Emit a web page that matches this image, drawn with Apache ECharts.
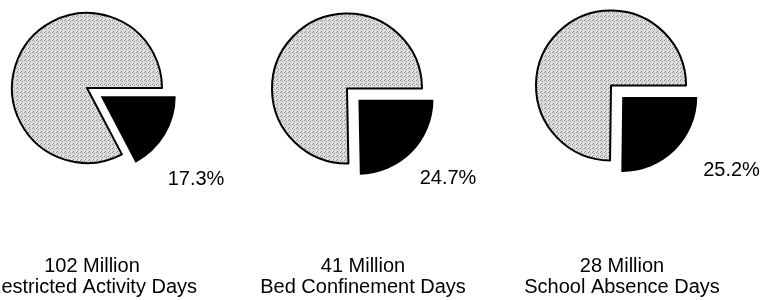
<!DOCTYPE html>
<html>
<head>
<meta charset="utf-8">
<script src="https://cdn.jsdelivr.net/npm/echarts@6/dist/echarts.min.js"></script>
<style>
  html, body { margin: 0; padding: 0; background: #fff; }
  #chart { width: 763px; height: 300px; }
</style>
</head>
<body>
<div id="chart"></div>
<script>
// data
const counts = ['102 Million', '41 Million', '28 Million'];
const categories = ['Restricted Activity Days', 'Bed Confinement Days', 'School Absence Days'];
const shares = [17.3, 24.7, 25.2];

// layout (px)
const centers = [[87, 88], [347, 88.5], [611, 85.5]];
const pctPos = [[196, 179], [448, 178.5], [731.5, 170]];
const captionX = [92, 363, 622];
const FONT = '"Liberation Sans", Arial, sans-serif';

// stippled grey fill like the scanned original
function stipple() {
  const c = document.createElement('canvas');
  c.width = 4; c.height = 4;
  const ctx = c.getContext('2d');
  ctx.fillStyle = '#dedede';
  ctx.fillRect(0, 0, 4, 4);
  ctx.fillStyle = '#8e8e8e';
  ctx.fillRect(0, 0, 1, 1);
  ctx.fillRect(2, 1, 1, 1);
  ctx.fillRect(1, 3, 1, 1);
  return { image: c, repeat: 'repeat' };
}
const grey = stipple();

const series = shares.map((s, i) => ({
  type: 'pie',
  center: centers[i],
  radius: 75,
  startAngle: 0,
  clockwise: true,
  selectedMode: 'single',
  selectedOffset: 16,
  silent: true,
  label: { show: false },
  labelLine: { show: false },
  emphasis: { disabled: true },
  data: [
    { name: categories[i], value: s, selected: true, itemStyle: { color: '#000', borderWidth: 0 } },
    { name: 'Other', value: +(100 - s).toFixed(1), itemStyle: { color: grey, borderColor: '#000', borderWidth: 2 } }
  ]
}));

const texts = [];
shares.forEach((s, i) => {
  texts.push({
    type: 'text', x: pctPos[i][0], y: pctPos[i][1], silent: true,
    style: { text: s.toFixed(1) + '%', font: '20px ' + FONT, fill: '#000', align: 'center', verticalAlign: 'middle' }
  });
  texts.push({
    type: 'text', x: captionX[i], y: 266, silent: true,
    style: { text: counts[i], font: '20px ' + FONT, fill: '#000', align: 'center', verticalAlign: 'middle' }
  });
  texts.push({
    type: 'text', x: captionX[i], y: 287, silent: true,
    style: { text: categories[i], font: '20px ' + FONT, fill: '#000', align: 'center', verticalAlign: 'middle' }
  });
});

const chart = echarts.init(document.getElementById('chart'));
chart.setOption({
  backgroundColor: '#fff',
  animation: false,
  series: series,
  graphic: texts
});
</script>
</body>
</html>
